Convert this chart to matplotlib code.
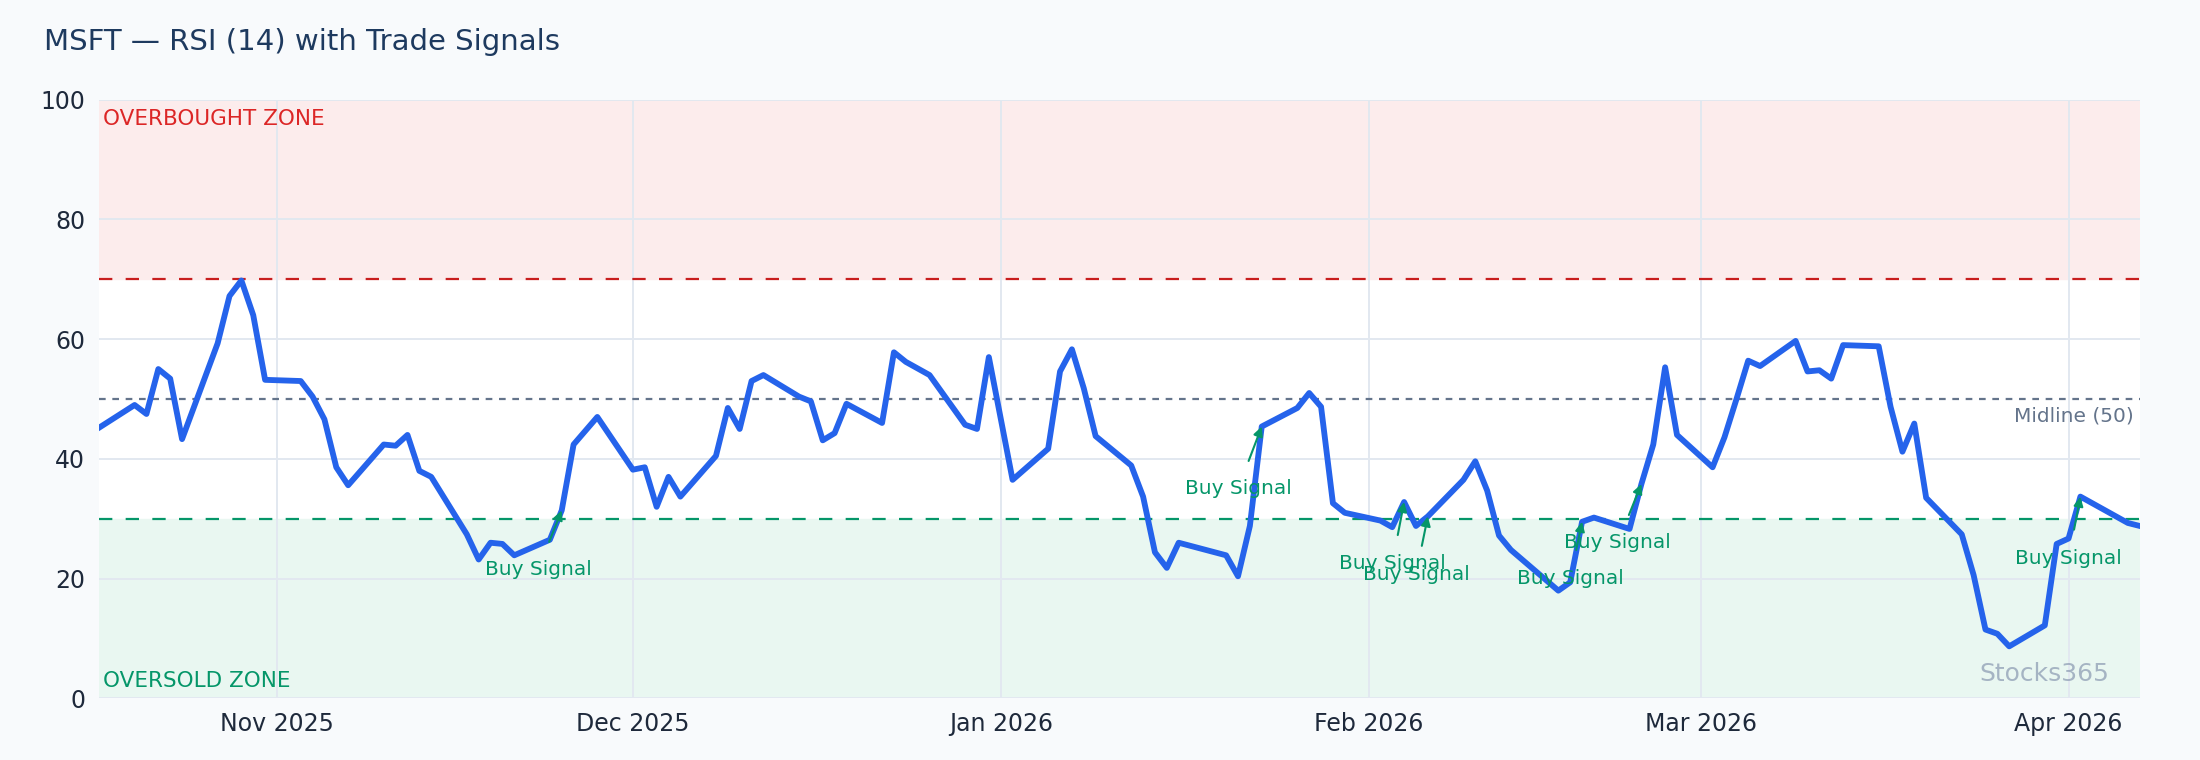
import matplotlib
matplotlib.use("Agg")
import matplotlib.pyplot as plt
import matplotlib.dates as mdates
import pandas as pd

dates = ["2025-10-17","2025-10-20","2025-10-21","2025-10-22","2025-10-23","2025-10-24","2025-10-27","2025-10-28","2025-10-29","2025-10-30","2025-10-31",
"2025-11-03","2025-11-04","2025-11-05","2025-11-06","2025-11-07","2025-11-10","2025-11-11","2025-11-12","2025-11-13","2025-11-14",
"2025-11-17","2025-11-18","2025-11-19","2025-11-20","2025-11-21","2025-11-24","2025-11-25","2025-11-26","2025-11-28",
"2025-12-01","2025-12-02","2025-12-03","2025-12-04","2025-12-05","2025-12-08","2025-12-09","2025-12-10","2025-12-11","2025-12-12",
"2025-12-15","2025-12-16","2025-12-17","2025-12-18","2025-12-19","2025-12-22","2025-12-23","2025-12-24","2025-12-26","2025-12-29","2025-12-30","2025-12-31",
"2026-01-02","2026-01-05","2026-01-06","2026-01-07","2026-01-08","2026-01-09","2026-01-12","2026-01-13","2026-01-14","2026-01-15","2026-01-16",
"2026-01-20","2026-01-21","2026-01-22","2026-01-23","2026-01-26","2026-01-27","2026-01-28","2026-01-29","2026-01-30",
"2026-02-02","2026-02-03","2026-02-04","2026-02-05","2026-02-06","2026-02-09","2026-02-10","2026-02-11","2026-02-12","2026-02-13",
"2026-02-17","2026-02-18","2026-02-19","2026-02-20","2026-02-23","2026-02-24","2026-02-25","2026-02-26","2026-02-27",
"2026-03-02","2026-03-03","2026-03-04","2026-03-05","2026-03-06","2026-03-09","2026-03-10","2026-03-11","2026-03-12","2026-03-13",
"2026-03-16","2026-03-17","2026-03-18","2026-03-19","2026-03-20","2026-03-23","2026-03-24","2026-03-25","2026-03-26","2026-03-27",
"2026-03-30","2026-03-31","2026-04-01","2026-04-02","2026-04-06","2026-04-07"]
rsi = [45.2,49.0,47.5,55.0,53.4,43.3,59.3,67.2,69.8,64.0,53.2,
53.0,50.4,46.6,38.6,35.6,42.4,42.2,44.0,38.0,37.0,
27.4,23.2,26.0,25.8,23.9,26.5,31.4,42.4,47.0,
38.2,38.6,32.0,37.0,33.7,40.5,48.5,45.0,53.0,54.0,
50.4,49.6,43.1,44.3,49.2,46.0,57.8,56.2,54.0,45.7,45.0,57.0,
36.5,41.7,54.6,58.3,51.8,43.8,38.9,33.7,24.4,21.8,26.0,
23.9,20.4,28.8,45.4,48.5,51.0,48.7,32.6,31.0,
29.7,28.6,32.8,28.8,30.4,36.5,39.6,34.7,27.2,24.8,
18.0,19.4,29.5,30.2,28.3,35.8,42.4,55.3,44.0,
38.6,43.6,49.9,56.4,55.5,59.7,54.6,54.8,53.4,59.0,
58.8,48.7,41.2,45.9,33.5,27.4,20.6,11.5,10.8,8.7,
12.2,25.8,26.7,33.7,29.3,28.8]

buy_dates = ["2025-11-25","2026-01-23","2026-02-04","2026-02-06","2026-02-19","2026-02-24","2026-04-02"]
buy_text_dates = ["2025-11-23","2026-01-21","2026-02-03","2026-02-05","2026-02-18","2026-02-22","2026-04-01"]
buy_text_vals = [21.5, 35.0, 22.5, 20.7, 20.0, 26.0, 23.4]

d = pd.to_datetime(dates)
s = pd.Series(rsi, index=d)

fig = plt.figure(figsize=(22, 7.6), dpi=100)
fig.patch.set_facecolor("#f8fafc")
ax = fig.add_axes([0.045, 0.081, 0.9276, 0.788])
ax.set_facecolor("white")
ax.axhspan(70, 100, color="#fcecec", zorder=0)
ax.axhspan(0, 30, color="#e9f7f1", zorder=0)
ax.grid(True, color="#e2e8f0", lw=1.4, zorder=1)
ax.set_axisbelow(True)
ax.axhline(70, color="#c81e1e", ls=(0, (6, 6)), lw=1.6, zorder=2)
ax.axhline(30, color="#059669", ls=(0, (6, 6)), lw=1.6, zorder=2)
ax.axhline(50, color="#64748b", ls=(0, (3, 3)), lw=1.6, zorder=2)
ax.plot(d, rsi, color="#2563eb", lw=4.2, zorder=4)

for bd, td, tv in zip(buy_dates, buy_text_dates, buy_text_vals):
    bdt = pd.Timestamp(bd)
    ax.annotate("Buy Signal", xy=(bdt, s[bdt]), xytext=(pd.Timestamp(td), tv),
                color="#059669", fontsize=14.5, ha="center", va="center",
                arrowprops=dict(arrowstyle="-|>", color="#059669", lw=1.5, mutation_scale=14,
                                shrinkA=12, shrinkB=0), zorder=5)

ax.set_ylim(0, 100)
ax.set_xlim(d[0], d[-1])
ax.set_yticks([0, 20, 40, 60, 80, 100])
ax.xaxis.set_major_locator(mdates.MonthLocator())
ax.xaxis.set_major_formatter(mdates.DateFormatter("%b %Y"))
ax.tick_params(axis="both", labelsize=17, colors="#1e293b", length=0, pad=10)
for sp in ax.spines.values():
    sp.set_visible(False)

ax.text(0.002, 0.985, "OVERBOUGHT ZONE", transform=ax.transAxes, color="#dc2626", fontsize=15.5, va="top", ha="left")
ax.text(0.002, 0.012, "OVERSOLD ZONE", transform=ax.transAxes, color="#059669", fontsize=15.5, va="bottom", ha="left")
ax.text(0.997, 47.2, "Midline (50)", transform=ax.get_yaxis_transform(), color="#64748b", fontsize=14.5, ha="right", va="center")
ax.text(0.985, 0.02, "Stocks365", transform=ax.transAxes, color="#94a3b8", alpha=0.8, fontsize=18, ha="right", va="bottom")
fig.text(0.02, 0.945, "MSFT — RSI (14) with Trade Signals", color="#1e3a5f", fontsize=21, ha="left", va="center")

fig.savefig("out.png", dpi=100, facecolor=fig.get_facecolor())
